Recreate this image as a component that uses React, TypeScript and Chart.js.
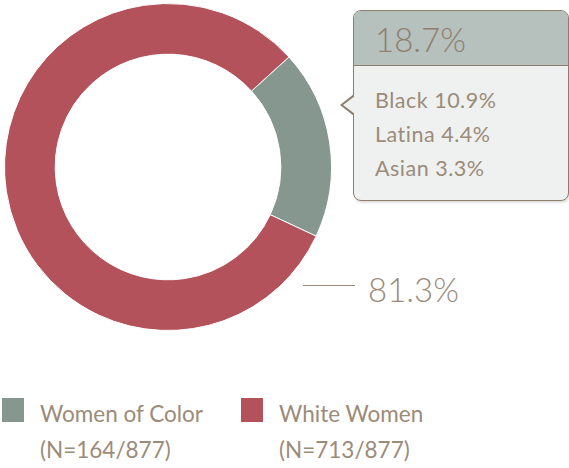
import React, { useEffect, useRef } from "react";
import { Chart, registerables } from "chart.js";

Chart.register(...registerables);

const categories = ["Women of Color", "White Women"];
const values = [18.7, 81.3];
const counts = ["(N=164/877)", "(N=713/877)"];
const colors = ["#85978f", "#b3525b"];
const breakdownLabels = ["Black", "Latina", "Asian"];
const breakdownValues = [10.9, 4.4, 3.3];

const textColor = "#9b8b79";
const font = "Lato, 'Open Sans', sans-serif";

export default function App() {
  const ref = useRef<HTMLCanvasElement | null>(null);

  useEffect(() => {
    document.body.style.margin = "0";
    const chart = new Chart(ref.current!, {
      type: "doughnut",
      data: {
        labels: categories,
        datasets: [
          {
            data: values,
            backgroundColor: colors,
            borderColor: "#ffffff",
            borderWidth: 1,
          },
        ],
      },
      options: {
        animation: false,
        responsive: false,
        maintainAspectRatio: false,
        rotation: 47.7,
        cutout: "69%",
        layout: { padding: 3 },
        plugins: { legend: { display: false }, tooltip: { enabled: false } },
      },
    });
    return () => chart.destroy();
  }, []);

  return (
    <div style={{ position: "fixed", left: 0, top: 0, width: 569, height: 468, background: "#fff", fontFamily: font, color: textColor, overflow: "hidden" }}>
      <canvas ref={ref} width={336} height={334} style={{ position: "absolute", left: 0, top: 0, width: 336, height: 334 }} />

      {/* tooltip box */}
      <div style={{ position: "absolute", left: 353, top: 10, width: 216, height: 191, border: "1.5px solid #8c7d6c", borderRadius: 8, background: "#eff1f0", boxSizing: "border-box", boxShadow: "1px 2px 2px rgba(0,0,0,0.12)" }}>
        <div style={{ height: 54, background: "#b6c0bd", borderBottom: "1.5px solid #8c7d6c", borderRadius: "7px 7px 0 0", fontSize: 33, lineHeight: "56px", paddingLeft: 21, fontWeight: 300, color: "#8f7f6d" }}>
          {values[0].toFixed(1)}%
        </div>
        <div style={{ paddingLeft: 21, paddingTop: 17, fontSize: 21.5, lineHeight: "34px", letterSpacing: 0.5 }}>
          {breakdownLabels.map((l, i) => (
            <div key={l}>{l} {breakdownValues[i].toFixed(1)}%</div>
          ))}
        </div>
      </div>
      {/* arrow */}
      <div style={{ position: "absolute", left: 340, top: 94, width: 0, height: 0, borderTop: "11px solid transparent", borderBottom: "11px solid transparent", borderRight: "14px solid #8c7d6c" }} />
      <div style={{ position: "absolute", left: 342.5, top: 95.5, width: 0, height: 0, borderTop: "9.5px solid transparent", borderBottom: "9.5px solid transparent", borderRight: "12px solid #eff1f0" }} />

      {/* 81.3% label */}
      <div style={{ position: "absolute", left: 303, top: 285, width: 52, height: 1, background: "#9b8b79" }} />
      <div style={{ position: "absolute", left: 368, top: 270, fontSize: 33, lineHeight: "38px", fontWeight: 300 }}>
        {values[1].toFixed(1)}%
      </div>

      {/* legend */}
      {categories.map((c, i) => (
        <div key={c} style={{ position: "absolute", left: i === 0 ? 2 : 241, top: 398 }}>
          <div style={{ position: "absolute", left: 0, top: 0, width: 22, height: 24, background: colors[i] }} />
          <div style={{ position: "absolute", left: 38, top: -2, fontSize: 22.5, lineHeight: "36px", whiteSpace: "nowrap" }}>
            <div>{c}</div>
            <div>{counts[i]}</div>
          </div>
        </div>
      ))}
    </div>
  );
}
